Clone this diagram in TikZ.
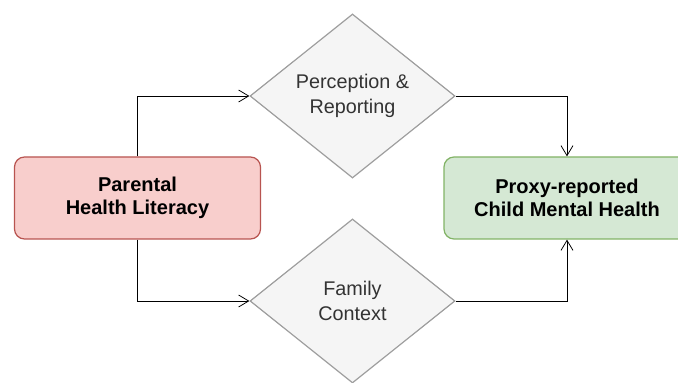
\documentclass[tikz,border=0pt]{standalone}
\usepackage{fontspec}
\setmainfont{Liberation Sans}
\usepackage{tikz}
\usetikzlibrary{shapes.geometric,arrows.meta}
\definecolor{redfill}{HTML}{F8CECC}
\definecolor{redline}{HTML}{B85450}
\definecolor{greenfill}{HTML}{D5E8D4}
\definecolor{greenline}{HTML}{82B366}
\definecolor{grayfill}{HTML}{F5F5F5}
\definecolor{grayline}{HTML}{9E9E9E}
\tikzset{block/.style = {draw, rectangle, rounded corners = 10pt, line width = 1.2pt,
                         minimum width = 246pt, minimum height = 82pt, align = center,
                         font = \fontsize{20}{23.5}\selectfont\bfseries},
         decision/.style = {draw = grayline, fill = grayfill, diamond, line width = 1.2pt,
                         inner sep = 0pt, minimum width = 205pt, minimum height = 164pt,
                         align = center, text = black!80, font = \fontsize{19.8}{25}\selectfont},
         link/.style = {draw, line width = 0.8pt, -{Straight Barb[length = 10pt, width = 12pt]}},
}
\begin{document}
\begin{tikzpicture}[x = 1pt, y = 1pt]
  \useasboundingbox (0,0) rectangle (678,383);

  \node[block, fill = redfill, draw = redline] (PHL) at (137.5,185) {Parental\\Health Literacy};
  \node[block, fill = greenfill, draw = greenline] (PROXY) at (567,185) {Proxy-reported\\Child Mental Health};

  \node[decision] (PERC) at (352.5,287) {Perception \&\\Reporting};
  \node[decision] (FAM) at (352.5,82) {Family\\Context};

  \draw[link] (PHL.north) |- (PERC.west);
  \draw[link] (PERC.east) -| (PROXY.north);
  \draw[link] (PHL.south) |- (FAM.west);
  \draw[link] (FAM.east) -| (PROXY.south);
\end{tikzpicture}
\end{document}
